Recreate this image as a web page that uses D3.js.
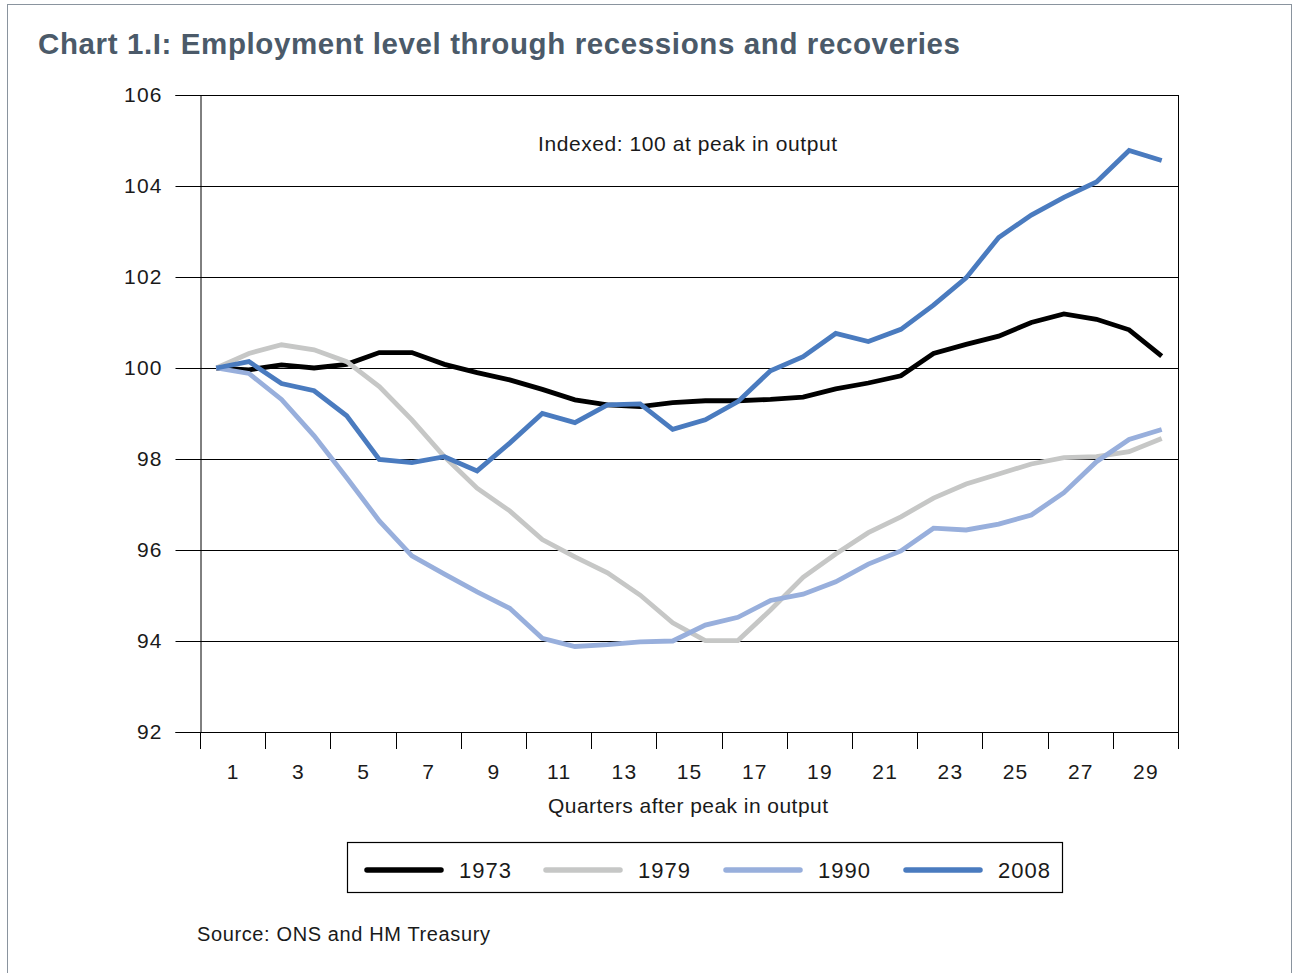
<!DOCTYPE html>
<html>
<head>
<meta charset="utf-8">
<script src="https://cdn.jsdelivr.net/npm/d3@7"></script>
<style>
  html, body { margin: 0; padding: 0; background: #fff; }
  svg { display: block; font-family: "Liberation Sans", Arial, Helvetica, sans-serif; }
</style>
</head>
<body>
<svg id="chart" width="1292" height="973"></svg>
<script>
const quarters = d3.range(1, 31);
const tickLabels = [1,3,5,7,9,11,13,15,17,19,21,23,25,27,29];
const yTicks = [92,94,96,98,100,102,104,106];
const seriesNames = ["1973", "1979", "1990", "2008"];
const seriesColors = ["#000000", "#c6c7c6", "#98afdc", "#4a7bbf"];

const s1973 = [100.0, 99.96, 100.07, 100.0, 100.08, 100.34, 100.34, 100.08, 99.9, 99.74,
               99.53, 99.30, 99.19, 99.15, 99.24, 99.28, 99.28, 99.31, 99.36, 99.54,
               99.67, 99.83, 100.32, 100.52, 100.70, 101.0, 101.19, 101.07, 100.84, 100.26];
const s1979 = [100.0, 100.32, 100.51, 100.40, 100.14, 99.59, 98.86, 98.05, 97.36, 96.86,
               96.23, 95.85, 95.50, 95.01, 94.40, 94.01, 94.01, 94.68, 95.40, 95.91,
               96.38, 96.73, 97.14, 97.45, 97.67, 97.89, 98.03, 98.05, 98.16, 98.45];
const s1990 = [100.0, 99.88, 99.31, 98.51, 97.59, 96.64, 95.87, 95.47, 95.08, 94.72,
               94.06, 93.88, 93.92, 93.98, 94.0, 94.35, 94.52, 94.89, 95.03, 95.30,
               95.69, 95.98, 96.48, 96.44, 96.57, 96.77, 97.26, 97.94, 98.43, 98.65];
const s2008 = [100.0, 100.14, 99.66, 99.50, 98.95, 97.99, 97.92, 98.05, 97.74, 98.35,
               99.0, 98.80, 99.19, 99.21, 98.65, 98.86, 99.26, 99.94, 100.25, 100.76,
               100.58, 100.85, 101.38, 101.98, 102.87, 103.36, 103.75, 104.09, 104.78, 104.56];
const seriesValues = [s1973, s1979, s1990, s2008];

const svg = d3.select("#chart");
const TXT = "#1a1a1a";

// outer frame
svg.append("rect").attr("x", 7.5).attr("y", 4.5).attr("width", 1284).attr("height", 1000)
  .attr("fill", "none").attr("stroke", "#8a949e").attr("stroke-width", 1);

// title
svg.append("text").attr("x", 38).attr("y", 54)
  .attr("font-size", 29.5).attr("font-weight", "bold").attr("fill", "#4b5a69")
  .attr("textLength", 922).attr("lengthAdjust", "spacing")
  .text("Chart 1.I: Employment level through recessions and recoveries");

const L = 200, R = 1178, T = 95, B = 732;
const x = d3.scaleBand().domain(quarters).range([L, R]).paddingInner(0).paddingOuter(0);
const y = d3.scaleLinear().domain([92, 106]).range([B, T]);

// gridlines
svg.append("g").selectAll("line").data(yTicks).join("line")
  .attr("x1", L).attr("x2", R)
  .attr("y1", d => Math.round(y(d)) + 0.5).attr("y2", d => Math.round(y(d)) + 0.5)
  .attr("stroke", "#000").attr("stroke-width", 1);

// right border
svg.append("line").attr("x1", R + 0.5).attr("x2", R + 0.5).attr("y1", T).attr("y2", B + 17)
  .attr("stroke", "#000").attr("stroke-width", 1);

// y axis
const yAxis = d3.axisLeft(y).tickValues(yTicks).tickSize(25).tickPadding(14).tickFormat(d3.format("d"));
const gy = svg.append("g").attr("transform", `translate(${L + 0.5},0)`).call(yAxis);
gy.select(".domain").attr("stroke", "#000");
gy.selectAll(".tick line").attr("stroke", "#000");
gy.selectAll(".tick text").attr("font-size", 21).attr("fill", TXT)
  .attr("font-family", "'Liberation Sans', Arial, sans-serif")
  .attr("letter-spacing", 1.2).attr("dx", 1.2);

// x axis: tick marks at every second boundary, labels between them
const tickBoundaries = d3.range(0, 31, 2);
svg.append("g").selectAll("line").data(tickBoundaries).join("line")
  .attr("x1", d => Math.round(d === 30 ? R : x(d + 1)) + 0.5)
  .attr("x2", d => Math.round(d === 30 ? R : x(d + 1)) + 0.5)
  .attr("y1", B).attr("y2", B + 17)
  .attr("stroke", "#000").attr("stroke-width", 1);

svg.append("g").selectAll("text").data(tickLabels).join("text")
  .attr("x", d => x(d) + x.bandwidth() + 0.6)
  .attr("y", 779)
  .attr("text-anchor", "middle").attr("font-size", 21).attr("fill", TXT)
  .attr("letter-spacing", 1.2)
  .text(d => d);

svg.append("text").attr("x", 548).attr("y", 813)
  .attr("font-size", 21).attr("fill", TXT)
  .attr("textLength", 280).attr("lengthAdjust", "spacing")
  .text("Quarters after peak in output");

svg.append("text").attr("x", 538).attr("y", 151)
  .attr("font-size", 21).attr("fill", TXT)
  .attr("textLength", 299).attr("lengthAdjust", "spacing")
  .text("Indexed: 100 at peak in output");

// lines
const line = d3.line().x((d, i) => x(quarters[i]) + x.bandwidth() / 2).y(d => y(d));
seriesValues.forEach((vals, k) => {
  svg.append("path").datum(vals)
    .attr("d", line).attr("fill", "none")
    .attr("stroke", seriesColors[k]).attr("stroke-width", 4.8)
    .attr("stroke-linejoin", "miter").attr("stroke-linecap", "butt");
});

// legend
svg.append("rect").attr("x", 347.5).attr("y", 842.5).attr("width", 715).attr("height", 50)
  .attr("fill", "none").attr("stroke", "#000").attr("stroke-width", 1.2);
const legendX = [365, 544, 724, 904];
const lg = svg.append("g").selectAll("g").data(seriesNames).join("g")
  .attr("transform", (d, i) => `translate(${legendX[i]},870)`);
lg.append("line").attr("x1", 2).attr("x2", 76).attr("y1", 0).attr("y2", 0)
  .attr("stroke", (d, i) => seriesColors[i]).attr("stroke-width", 5.5).attr("stroke-linecap", "round");
lg.append("text").attr("x", 94).attr("y", 8).attr("font-size", 22).attr("fill", TXT)
  .attr("textLength", 52).attr("lengthAdjust", "spacing")
  .text(d => d);

// source
svg.append("text").attr("x", 197).attr("y", 941).attr("font-size", 20).attr("fill", TXT)
  .attr("textLength", 293).attr("lengthAdjust", "spacing")
  .text("Source: ONS and HM Treasury");
</script>
</body>
</html>
